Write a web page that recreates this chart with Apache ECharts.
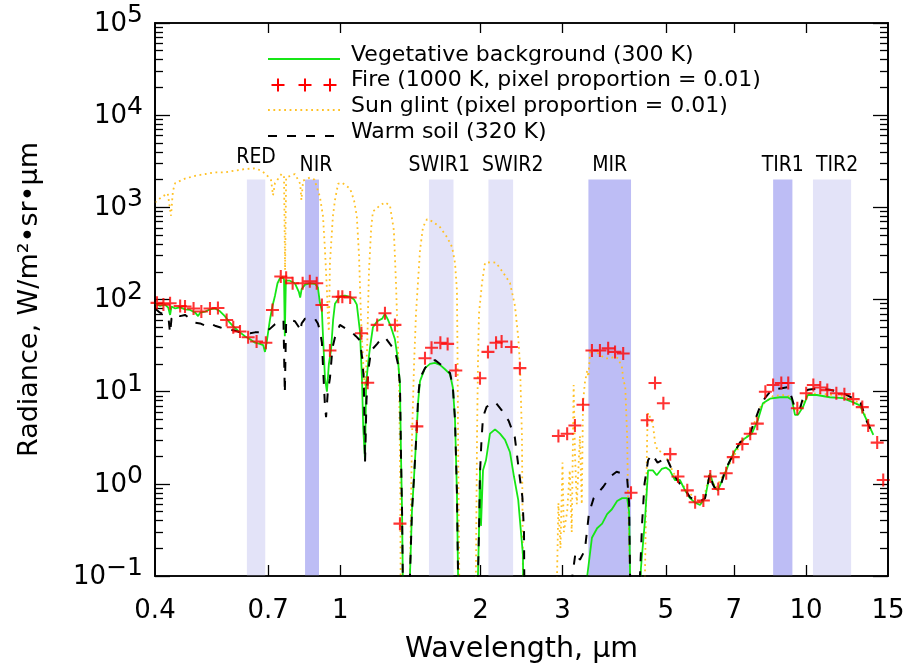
<!DOCTYPE html>
<html>
<head>
<meta charset="utf-8">
<title>Radiance spectra</title>
<script src="https://cdn.jsdelivr.net/npm/echarts@6.0.0/dist/echarts.min.js"></script>
<style>
  html, body { margin: 0; padding: 0; background: #fff; }
  #chart { width: 907px; height: 666px; }
</style>
</head>
<body>
<div id="chart"></div>
<script>
const FONT = 'DejaVu Sans';
const NARROW = 'DejaVu Sans Condensed';

// axis ticks
const xTickValues = [0.4, 0.7, 1, 2, 3, 5, 7, 10, 15];
const yTickValues = [0.1, 1, 10, 100, 1000, 10000, 100000];

// spectral bands (micrometres)
const bandNames = ['RED', 'NIR', 'SWIR1', 'SWIR2', 'MIR', 'TIR1', 'TIR2'];
const bandStart = [0.63, 0.84, 1.55, 2.08, 3.41, 8.5, 10.35];
const bandEnd = [0.69, 0.90, 1.75, 2.35, 4.21, 9.35, 12.5];
const bandDark = [false, true, false, false, true, true, false];
const bandTop = 2000;

// [wavelength um, radiance W/m2/sr/um]; 0.01 = below the plotted range
const vegetation = [
  [0.400, 90], [0.410, 85], [0.420, 88], [0.427, 82], [0.431, 68], [0.434, 84], [0.442, 80], [0.453, 82],
  [0.464, 78], [0.476, 77], [0.488, 72], [0.495, 66], [0.500, 72], [0.513, 74], [0.525, 78], [0.538, 80],
  [0.551, 75], [0.565, 66], [0.579, 56], [0.594, 49], [0.609, 44], [0.624, 40], [0.640, 37], [0.656, 34],
  [0.672, 33], [0.683, 32], [0.689, 27], [0.694, 33], [0.706, 60], [0.715, 85], [0.724, 110], [0.733, 150],
  [0.742, 170], [0.751, 175], [0.757, 165], [0.760, 40], [0.764, 160], [0.779, 160], [0.799, 150], [0.815, 120],
  [0.820, 105], [0.826, 130], [0.840, 145], [0.861, 150], [0.882, 148], [0.895, 135], [0.904, 92], [0.913, 75],
  [0.918, 40], [0.927, 14], [0.936, 10], [0.945, 20], [0.955, 28], [0.965, 60], [0.974, 90], [0.998, 108],
  [1.023, 110], [1.049, 107], [1.070, 100], [1.085, 88], [1.102, 45], [1.113, 14], [1.120, 4], [1.130, 1.8],
  [1.136, 12], [1.147, 20], [1.158, 30], [1.175, 50], [1.200, 58], [1.230, 62], [1.247, 70], [1.266, 60],
  [1.285, 50], [1.310, 37], [1.330, 22], [1.343, 12], [1.350, 2], [1.357, 0.5], [1.364, 0.05], [1.400, 0.01],
  [1.411, 0.1], [1.425, 0.5], [1.440, 1.2], [1.455, 3], [1.470, 8], [1.483, 13], [1.520, 18], [1.558, 20],
  [1.597, 20.5], [1.637, 19.5], [1.678, 17.5], [1.720, 15.5], [1.745, 11], [1.763, 5], [1.780, 0.8], [1.790, 0.1],
  [1.800, 0.01], [1.960, 0.01], [1.975, 0.1], [1.985, 0.3], [1.995, 1.5], [2.005, 0.35], [2.025, 1.4], [2.055, 1.8],
  [2.096, 3.5], [2.149, 3.9], [2.202, 3.5], [2.258, 3.0], [2.314, 2.2], [2.360, 1.2], [2.410, 0.67], [2.431, 0.4],
  [2.467, 0.17], [2.480, 0.01], [3.370, 0.01], [3.390, 0.1], [3.470, 0.26], [3.560, 0.33], [3.650, 0.37], [3.740, 0.47],
  [3.830, 0.53], [3.930, 0.65], [4.030, 0.70], [4.130, 0.70], [4.170, 0.5], [4.190, 0.1], [4.210, 0.01], [4.400, 0.01],
  [4.420, 0.12], [4.510, 0.4], [4.580, 1.4], [4.690, 1.4], [4.780, 1.24], [4.900, 1.45], [5.000, 1.5], [5.100, 1.4],
  [5.230, 1.1], [5.360, 1.1], [5.500, 0.85], [5.630, 0.70], [5.770, 0.63], [5.920, 0.59], [6.070, 0.70], [6.220, 1.3],
  [6.280, 1.1], [6.370, 0.9], [6.470, 0.85], [6.700, 1.3], [6.870, 1.8], [7.040, 2.3], [7.320, 3.0], [7.650, 3.5],
  [7.880, 4.9], [8.080, 7.5], [8.370, 8.4], [8.790, 8.7], [9.140, 8.7], [9.330, 8.1], [9.470, 5.6], [9.610, 5.6],
  [9.850, 6.8], [10.09, 9.2], [10.55, 9.2], [11.25, 8.7], [12.00, 8.5], [12.60, 7.7], [13.05, 7.1], [13.50, 4.9],
  [13.95, 3.4]
];

const fire = [
  [0.404, 92], [0.417, 88], [0.431, 91], [0.453, 85], [0.464, 84], [0.484, 80], [0.503, 74], [0.525, 80],
  [0.546, 81], [0.570, 60], [0.589, 50], [0.609, 45], [0.634, 39], [0.661, 35], [0.692, 34], [0.715, 77],
  [0.745, 178], [0.765, 172], [0.790, 150], [0.830, 150], [0.860, 158], [0.890, 150], [0.913, 87], [0.950, 28],
  [0.990, 107], [1.010, 107], [1.050, 105], [1.110, 43], [1.145, 12.5], [1.200, 53], [1.247, 71], [1.310, 53],
  [1.343, 0.37], [1.460, 4.2], [1.520, 23], [1.570, 30], [1.640, 34], [1.700, 33], [1.770, 17], [1.995, 14],
  [2.075, 27], [2.160, 34], [2.220, 35], [2.330, 30.5], [2.430, 18], [2.94, 3.3], [3.07, 3.5], [3.19, 4.3],
  [3.32, 7.2], [3.47, 28], [3.61, 28], [3.76, 29.5], [3.89, 27], [4.05, 26], [4.21, 0.8], [4.56, 4.9],
  [4.74, 12.4], [4.94, 7.5], [5.11, 2.1], [5.31, 1.2], [5.56, 0.85], [5.78, 0.63], [6.02, 0.66], [6.23, 1.2],
  [6.48, 0.88], [6.74, 1.3], [6.98, 1.95], [7.30, 2.7], [7.59, 3.5], [7.86, 4.5], [8.18, 10], [8.50, 11.8],
  [8.85, 12.4], [9.16, 12.4], [9.58, 6.6], [10.01, 9.6], [10.37, 11.8], [10.73, 11.1], [11.11, 10.4], [11.62, 9.6],
  [12.09, 9.4], [12.63, 8.3], [13.21, 6.8], [13.60, 4.3], [14.22, 2.8], [14.65, 1.1]
];

const sunGlint = [
  [0.400, 1130], [0.414, 1300], [0.426, 1420], [0.433, 810], [0.437, 1500], [0.442, 1830], [0.464, 2050], [0.488, 2200],
  [0.513, 2300], [0.538, 2400], [0.565, 2400], [0.594, 2500], [0.624, 2600], [0.656, 2650], [0.676, 2500], [0.692, 2300],
  [0.710, 1970], [0.717, 1350], [0.724, 1830], [0.748, 2300], [0.757, 2200], [0.761, 208], [0.765, 2100], [0.772, 2200],
  [0.799, 2300], [0.820, 1800], [0.825, 1200], [0.832, 1950], [0.860, 2100], [0.880, 2000], [0.904, 1300], [0.918, 800],
  [0.927, 343], [0.936, 126], [0.941, 60], [0.945, 45], [0.950, 250], [0.964, 800], [0.974, 1200], [0.989, 1800],
  [1.008, 1850], [1.049, 1600], [1.070, 1200], [1.085, 800], [1.097, 300], [1.108, 60], [1.120, 20], [1.130, 10],
  [1.142, 30], [1.152, 200], [1.165, 600], [1.175, 900], [1.217, 1050], [1.247, 1130], [1.278, 1050], [1.303, 565],
  [1.317, 150], [1.337, 13], [1.345, 1], [1.350, 0.01], [1.400, 0.01], [1.411, 0.1], [1.425, 3], [1.440, 20],
  [1.454, 71], [1.483, 343], [1.505, 610], [1.535, 743], [1.580, 700], [1.637, 610], [1.695, 475], [1.738, 370],
  [1.763, 250], [1.780, 126], [1.785, 28], [1.790, 3.3], [1.800, 0.12], [1.810, 0.01], [1.950, 0.01], [1.955, 0.1],
  [1.966, 3.3], [1.975, 20], [1.985, 70], [2.015, 151], [2.045, 250], [2.110, 254], [2.160, 250], [2.230, 200],
  [2.314, 151], [2.372, 85], [2.410, 39], [2.431, 20], [2.455, 3.3], [2.467, 0.1], [2.480, 0.01], [2.90, 0.01],
  [2.92, 0.1], [2.94, 0.62], [2.97, 0.2], [3.00, 1.7], [3.02, 0.3], [3.07, 0.5], [3.11, 1.4], [3.14, 0.3],
  [3.17, 11.8], [3.19, 2.2], [3.22, 0.6], [3.27, 3.3], [3.30, 0.6], [3.32, 7.5], [3.35, 12.4], [3.39, 17],
  [3.41, 14.5], [3.44, 28], [3.52, 28], [3.61, 25], [3.70, 23], [3.79, 23], [3.89, 24], [3.95, 23],
  [4.03, 18], [4.05, 13], [4.09, 11.8], [4.13, 3.3], [4.15, 0.62], [4.19, 0.1], [4.21, 0.01], [4.45, 0.01],
  [4.51, 0.1], [4.56, 3.3], [4.58, 5.9], [4.62, 6.0], [4.69, 4.5], [4.74, 2.8], [4.80, 2.3], [4.92, 2.2],
  [5.0, 2.0], [5.2, 1.3], [5.5, 0.9], [5.8, 0.67], [6.0, 0.62], [6.2, 1.25], [6.4, 0.9], [6.7, 1.35],
  [7.0, 2.0], [7.3, 2.9], [7.6, 3.6], [8.0, 7.0], [8.5, 9.0], [9.0, 9.2], [9.3, 8.8], [9.5, 6.0],
  [9.8, 7.0], [10.1, 9.6], [11.0, 9.4], [12.0, 9.0], [12.6, 8.2], [13.1, 7.4], [13.5, 5.0], [13.9, 3.5]
];

const warmSoil = [
  [0.400, 80], [0.410, 72], [0.420, 68], [0.428, 60], [0.431, 43], [0.434, 62], [0.442, 70], [0.453, 66],
  [0.464, 68], [0.476, 62], [0.488, 56], [0.500, 55], [0.513, 52], [0.525, 55], [0.538, 52], [0.551, 50],
  [0.565, 48], [0.579, 47], [0.594, 46], [0.609, 44], [0.624, 44], [0.640, 43], [0.656, 44], [0.672, 44],
  [0.689, 45], [0.706, 48], [0.724, 54], [0.742, 58], [0.755, 60], [0.760, 9.6], [0.765, 58], [0.779, 60],
  [0.799, 58], [0.815, 50], [0.820, 45], [0.826, 55], [0.840, 62], [0.861, 63], [0.882, 62], [0.895, 55],
  [0.904, 46], [0.913, 34], [0.922, 12], [0.927, 7], [0.932, 5.3], [0.940, 10], [0.950, 14], [0.962, 30],
  [0.974, 39], [0.998, 53], [1.030, 48], [1.060, 44], [1.080, 40], [1.102, 36], [1.113, 24], [1.123, 14],
  [1.130, 1.7], [1.138, 8], [1.150, 18], [1.165, 28], [1.200, 33], [1.217, 36], [1.247, 39], [1.278, 33],
  [1.310, 28], [1.330, 20], [1.343, 12], [1.350, 2], [1.357, 0.5], [1.364, 0.05], [1.400, 0.01], [1.411, 0.1],
  [1.425, 0.5], [1.440, 1.2], [1.455, 3], [1.470, 9], [1.483, 14], [1.520, 18], [1.558, 21], [1.597, 22],
  [1.637, 20], [1.678, 18], [1.720, 16], [1.745, 11], [1.763, 5], [1.780, 0.8], [1.790, 0.1], [1.800, 0.01],
  [1.960, 0.01], [1.975, 0.1], [1.985, 0.3], [1.995, 1.3], [2.010, 3.0], [2.025, 5.3], [2.060, 6.8], [2.120, 7.7],
  [2.160, 7.5], [2.220, 6.3], [2.300, 4.8], [2.370, 3.2], [2.420, 1.35], [2.460, 0.72], [2.480, 0.3], [2.490, 0.01],
  [3.10, 0.01], [3.15, 0.1], [3.20, 0.18], [3.27, 0.15], [3.35, 0.19], [3.42, 0.48], [3.50, 0.70], [3.58, 0.80],
  [3.67, 0.93], [3.80, 1.2], [3.92, 1.35], [4.03, 1.3], [4.13, 1.15], [4.17, 0.62], [4.19, 0.1], [4.21, 0.01],
  [4.37, 0.01], [4.40, 0.1], [4.45, 0.4], [4.50, 1.0], [4.58, 1.8], [4.67, 2.1], [4.80, 1.7], [4.90, 1.8],
  [5.00, 2.0], [5.10, 1.6], [5.23, 1.2], [5.36, 1.0], [5.50, 0.87], [5.63, 0.72], [5.77, 0.66], [5.92, 0.64],
  [6.07, 0.70], [6.22, 1.3], [6.30, 1.0], [6.37, 0.9], [6.53, 0.88], [6.70, 1.4], [6.93, 1.95], [7.21, 2.8],
  [7.58, 3.5], [7.96, 6.8], [8.16, 8.5], [8.45, 10.5], [8.88, 10.9], [9.14, 11.2], [9.33, 8.5], [9.47, 6.5],
  [9.70, 6.5], [9.85, 8.5], [10.09, 10.5], [10.55, 10.8], [11.25, 10.5], [12.00, 9.7], [12.60, 8.5], [13.10, 7.6],
  [13.50, 4.8], [13.85, 3.6]
];

const GREEN = '#16e616';
const RED = '#ff0000';
const ORANGE = '#ffc125';
const PLUS = 'path://M4.2,0H5.8V10H4.2Z M0,4.2H10V5.8H0Z';

// minor ticks at 2..9 of each decade
const yMinor = [];
yTickValues.slice(0, -1).forEach(d => {
  for (let m = 2; m <= 9; m++) yMinor.push(+(d * m).toPrecision(3));
});

const axisLineStyle = { color: '#000', width: 1.5 };

function xAxisDef(position, withLabels, tickLen) {
  return {
    type: 'log', logBase: 10, min: 0.4, max: 15, position: position,
    axisLine: { show: true, onZero: false, lineStyle: axisLineStyle },
    axisTick: { show: true, inside: true, length: tickLen, customValues: xTickValues.slice(1, -1),
      lineStyle: { color: '#000', width: 1.3 } },
    minorTick: { show: false },
    splitLine: { show: false },
    axisLabel: withLabels ? {
      customValues: xTickValues, margin: 22, color: '#000', fontFamily: FONT, fontSize: 26,
      formatter: v => String(+v.toPrecision(3))
    } : { show: false },
    name: withLabels ? 'Wavelength, \u03bcm' : '',
    nameLocation: 'middle', nameGap: 59,
    nameTextStyle: { fontFamily: FONT, fontSize: 28.5, color: '#000' }
  };
}

function yAxisDef(position, ticks, tickLen, withLabels) {
  return {
    type: 'log', logBase: 10, min: 0.1, max: 100000, position: position,
    axisLine: { show: true, onZero: false, lineStyle: axisLineStyle },
    axisTick: { show: true, inside: true, length: tickLen, customValues: ticks,
      lineStyle: { color: '#000', width: 1.3 } },
    minorTick: { show: false },
    splitLine: { show: false },
    axisLabel: withLabels ? {
      customValues: yTickValues, margin: 12, padding: [0, 0, 6, 0],
      formatter: v => {
        const e = Math.round(Math.log10(v));
        return '{b|10}{s|' + (e < 0 ? '\u2212' + (-e) : e) + '}';
      },
      rich: {
        b: { fontFamily: FONT, fontSize: 26, color: '#000', lineHeight: 34, verticalAlign: 'bottom' },
        s: { fontFamily: FONT, fontSize: 25, color: '#000', lineHeight: 34, verticalAlign: 'top' }
      }
    } : { show: false },
    name: withLabels ? 'Radiance, W/m\u00b2\u2022sr\u2022\u03bcm' : '',
    nameLocation: 'middle', nameGap: 112,
    nameTextStyle: { fontFamily: FONT, fontSize: 27, color: '#000' }
  };
}

function plusMark(cx, cy) {
  return [
    { type: 'line', shape: { x1: cx - 6.5, y1: cy, x2: cx + 6.5, y2: cy }, style: { stroke: RED, lineWidth: 2 } },
    { type: 'line', shape: { x1: cx, y1: cy - 6.5, x2: cx, y2: cy + 6.5 }, style: { stroke: RED, lineWidth: 2 } }
  ];
}

const legendText = [
  'Vegetative background (300 K)',
  'Fire (1000 K, pixel proportion = 0.01)',
  'Sun glint (pixel proportion = 0.01)',
  'Warm soil (320 K)'
];

// horizontal nudge of each band label, as in the original figure
const bandLabelDx = { RED: 0, NIR: 4, SWIR1: -2, SWIR2: 12, MIR: 0, TIR1: 0, TIR2: 5 };

const chart = echarts.init(document.getElementById('chart'), null, { renderer: 'canvas' });

chart.setOption({
  animation: false,
  backgroundColor: '#fff',
  textStyle: { fontFamily: FONT },
  grid: { left: 155, right: 19, top: 23, bottom: 90, outerBoundsMode: 'none', containLabel: false },
  xAxis: [xAxisDef('bottom', true, 11), xAxisDef('top', false, 10)],
  yAxis: [
    yAxisDef('left', yTickValues, 15, true),
    yAxisDef('left', yMinor, 8, false),
    yAxisDef('right', yTickValues, 15, false),
    yAxisDef('right', yMinor, 8, false)
  ],
  graphic: [
    // plot frame (drawn over the axes so all four sides are closed)
    { type: 'rect', shape: { x: 155, y: 23, width: 733, height: 553 }, z: 100, silent: true,
      style: { fill: null, stroke: '#000', lineWidth: 1.5 } },
    { type: 'line', shape: { x1: 268, y1: 59, x2: 340, y2: 59 }, style: { stroke: GREEN, lineWidth: 1.8 } },
    ...plusMark(278, 85), ...plusMark(305, 85), ...plusMark(330, 85),
    { type: 'line', shape: { x1: 268, y1: 110, x2: 340, y2: 110 }, style: { stroke: ORANGE, lineWidth: 1.8, lineDash: [1.8, 3.6] } },
    { type: 'line', shape: { x1: 268, y1: 136, x2: 340, y2: 136 }, style: { stroke: '#000', lineWidth: 2, lineDash: [9, 10] } },
    ...legendText.map((t, i) => ({
      type: 'text', left: 351, top: 53 + i * 25.6 - 9,
      style: { text: t, fontFamily: FONT, fontSize: 22, fill: '#000' }
    }))
  ],
  series: [
    {
      name: 'bands', type: 'line', data: [], z: 1, silent: true,
      markArea: {
        silent: true,
        data: bandNames.map((n, i) => [
          {
            name: n, xAxis: bandStart[i], yAxis: 0.1,
            itemStyle: { color: bandDark[i] ? '#bdbdf5' : '#e3e3f8' },
            label: {
              show: true, position: 'top', distance: n === 'RED' ? 12 : 4,
              offset: [bandLabelDx[n], 0],
              color: '#000', fontFamily: NARROW, fontSize: 21
            }
          },
          { xAxis: bandEnd[i], yAxis: bandTop }
        ])
      }
    },
    {
      name: 'Sun glint', type: 'line', data: sunGlint, z: 2, showSymbol: false,
      lineStyle: { color: ORANGE, width: 1.8, type: [1.8, 3.6] }
    },
    {
      name: 'Vegetative background', type: 'line', data: vegetation, z: 3, showSymbol: false,
      lineStyle: { color: GREEN, width: 1.8 }
    },
    {
      name: 'Warm soil', type: 'line', data: warmSoil, z: 4, showSymbol: false,
      lineStyle: { color: '#000', width: 2, type: [9, 10] }
    },
    {
      name: 'Fire', type: 'scatter', data: fire, z: 5,
      symbol: PLUS, symbolSize: 13, itemStyle: { color: RED }
    }
  ]
});
</script>
</body>
</html>
